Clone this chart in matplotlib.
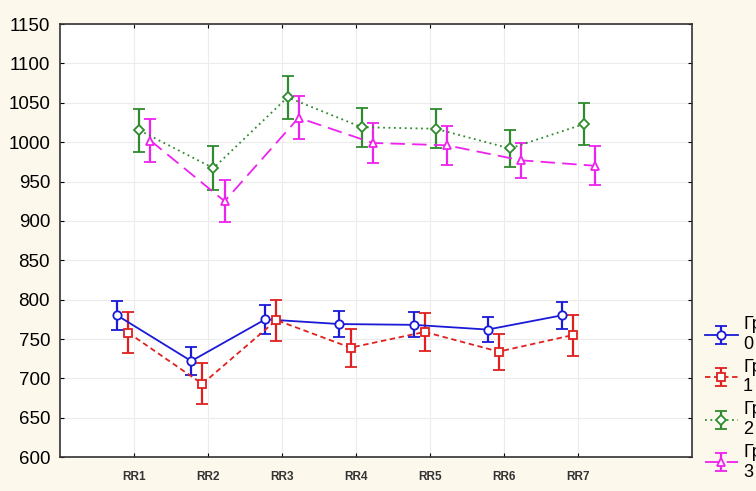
import matplotlib.pyplot as plt
import numpy as np

labels = ["RR1", "RR2", "RR3", "RR4", "RR5", "RR6", "RR7"]
groups = ["Группа\n0", "Группа\n1", "Группа\n2", "Группа\n3"]

g0 = [780, 722, 775, 769, 768, 762, 780]
g0_err = [18, 18, 18, 16, 16, 16, 17]
g1 = [758, 693, 774, 739, 759, 734, 755]
g1_err = [26, 26, 26, 24, 24, 23, 26]
g2 = [1015, 967, 1057, 1019, 1017, 992, 1023]
g2_err = [27, 28, 27, 25, 25, 23, 27]
g3 = [1002, 925, 1031, 999, 996, 977, 970]
g3_err = [27, 27, 27, 25, 25, 22, 25]

series = [g0, g1, g2, g3]
errors = [g0_err, g1_err, g2_err, g3_err]
colors = ["#1a1ad8", "#e02020", "#2e8b2e", "#ee22ee"]
markers = ["o", "s", "D", "^"]
styles = ["-", (0, (3, 2)), (0, (1, 2)), (0, (8, 4))]
offsets = [-0.225, -0.075, 0.075, 0.225]

plt.rcParams['font.family'] = ['Liberation Sans', 'DejaVu Sans']

fig = plt.figure(figsize=(7.56, 4.91), dpi=100)
fig.patch.set_facecolor("#fdf8ec")
ax = fig.add_axes([0.079, 0.069, 0.836, 0.882])
ax.set_facecolor("white")

x = np.arange(1, len(labels) + 1)
handles = []
for vals, err, c, m, ls, off, name in zip(series, errors, colors, markers, styles, offsets, groups):
    h = ax.errorbar(x + off, vals, yerr=err, color=c, ls=ls, lw=1.3,
                    marker=m, ms=6 if m != "D" else 5, mfc="white", mec=c, mew=1.3,
                    ecolor=c, elinewidth=1.6, capsize=4, capthick=1.6, label=name)
    handles.append(h)

ax.set_xlim(0, 8.53)
ax.set_ylim(600, 1150)
ax.set_yticks(np.arange(600, 1151, 50))
ax.set_xticks(x)
ax.set_xticklabels(labels, fontsize=8.5, fontweight="bold", color="#333333")
ax.tick_params(axis="y", labelsize=13.5, direction="in", length=3, right=True, pad=7)
ax.tick_params(axis="x", direction="in", length=3, top=True, pad=10)
ax.grid(True, color="#ececec", lw=0.8)
ax.set_axisbelow(True)
for s in ax.spines.values():
    s.set_color("#333333")
    s.set_linewidth(1.2)

# legend sits past the right edge, its labels run off the figure like the original
leg = fig.legend(handles=handles, loc="lower left", bbox_to_anchor=(0.928, 0.014),
                 frameon=False, fontsize=13, labelspacing=0.33, handlelength=1.8,
                 handletextpad=0.3, borderaxespad=0.0, borderpad=0.2)

fig.savefig("out.png", dpi=100, facecolor=fig.get_facecolor())
